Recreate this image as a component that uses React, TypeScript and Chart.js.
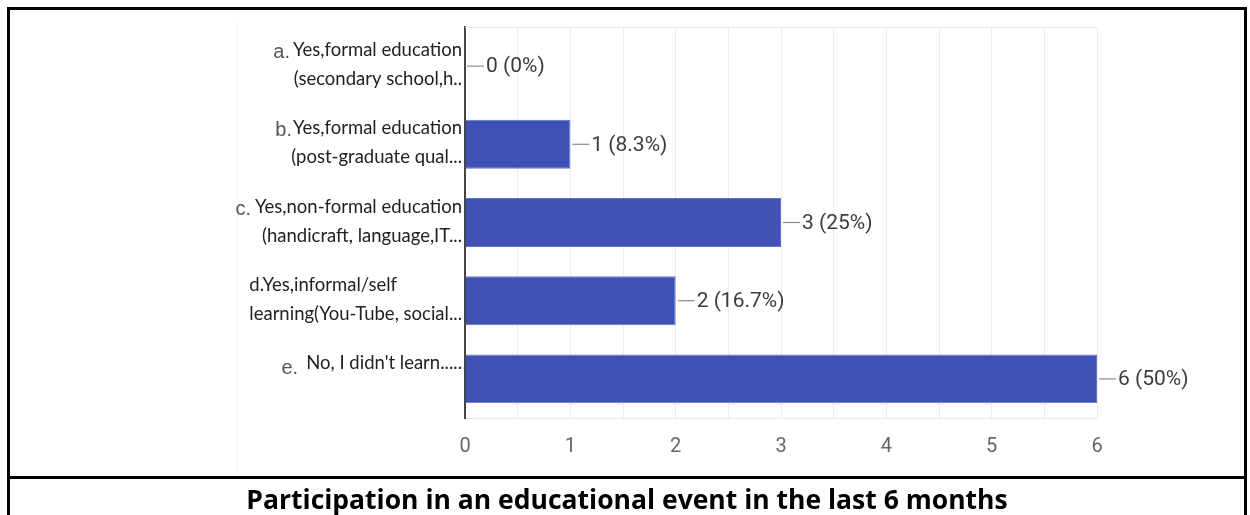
import React, { useEffect, useRef } from "react";
import { Chart, registerables } from "chart.js";

Chart.register(...registerables);

// ---- data ----
const catPrefixes = ["a.", "b.", "c.", "d.", "e."];
const catLine1 = [
  "Yes,formal education",
  "Yes,formal education",
  "Yes,non-formal education",
  "Yes,informal/self",
  "No, I didn't learn.....",
];
const catLine2 = [
  "(secondary school,h..",
  "(post-graduate qual...",
  "(handicraft, language,IT...",
  "learning(You-Tube, social...",
  "",
];
const counts = [0, 1, 3, 2, 6];
const xTicks = [0, 1, 2, 3, 4, 5, 6];
const captionText = "Participation in an educational event in the last 6 months";

// ---- styles ----
const prefixBig = [true, true, true, false, true];
const prefixGap = [3, 1, 4, 0, 8];
const alignLeft = [false, false, false, true, false];
const BAR = "#3f51b5";
const BODY_FONT = "18.5px Lato";
const PREFIX_FONT = "20px 'Liberation Sans'";
const VALUE_FONT = "21px Roboto";

const total = counts.reduce((a, b) => a + b, 0);
const pctLabel = (v: number) => `${v} (${parseFloat(((v / total) * 100).toFixed(1))}%)`;

const labelPlugin = {
  id: "customLabels",
  afterDraw(chart: any) {
    const ctx = chart.ctx;
    const yScale = chart.scales.y;
    const xScale = chart.scales.x;
    const area = chart.chartArea;
    ctx.save();
    // faint top frame line
    ctx.strokeStyle = "#ececec";
    ctx.lineWidth = 1;
    ctx.beginPath();
    ctx.moveTo(area.left, area.top + 0.5);
    ctx.lineTo(area.right, area.top + 0.5);
    ctx.stroke();

    // category labels
    const xRight = area.left - 3;
    ctx.textBaseline = "alphabetic";
    for (let i = 0; i < catLine1.length; i++) {
      const yc = yScale.getPixelForValue(i);
      const y1 = yc - 16 + 6;
      const y2 = yc + 13 + 6;
      ctx.font = BODY_FONT;
      ctx.fillStyle = "#222";
      if (alignLeft[i]) {
        const l1 = catPrefixes[i] + catLine1[i];
        const w = Math.max(ctx.measureText(l1).width, ctx.measureText(catLine2[i]).width);
        ctx.textAlign = "left";
        ctx.fillText(l1, xRight - w, y1);
        ctx.fillText(catLine2[i], xRight - w, y2);
      } else {
        ctx.textAlign = "right";
        ctx.fillText(catLine1[i], xRight, y1);
        if (catLine2[i]) ctx.fillText(catLine2[i], xRight, y2);
        const w1 = ctx.measureText(catLine1[i]).width;
        ctx.font = prefixBig[i] ? PREFIX_FONT : BODY_FONT;
        ctx.fillStyle = "#555";
        ctx.fillText(catPrefixes[i], xRight - w1 - prefixGap[i], y1 + (i === 4 ? 5 : 2));
      }
    }

    // value labels
    ctx.font = VALUE_FONT;
    ctx.textAlign = "left";
    ctx.textBaseline = "middle";
    for (let i = 0; i < counts.length; i++) {
      const xe = xScale.getPixelForValue(counts[i]);
      const yc = yScale.getPixelForValue(i);
      ctx.strokeStyle = "#8a8a8a";
      ctx.lineWidth = 1.2;
      ctx.beginPath();
      ctx.moveTo(xe + 2, yc);
      ctx.lineTo(xe + 19, yc);
      ctx.stroke();
      ctx.fillStyle = "#3c3c3c";
      ctx.fillText(pctLabel(counts[i]), xe + 21, yc + 1);
    }
    ctx.restore();
  },
};

function BarChart() {
  const ref = useRef<HTMLCanvasElement | null>(null);
  useEffect(() => {
    if (!ref.current) return;
    const chart = new Chart(ref.current, {
      type: "bar",
      data: {
        labels: catLine1.map((l, i) => catPrefixes[i] + " " + l),
        datasets: [
          {
            data: counts,
            backgroundColor: BAR,
            borderColor: "#6473c6",
            borderWidth: 1,
            barPercentage: 0.625,
            categoryPercentage: 1,
          },
        ],
      },
      options: {
        indexAxis: "y",
        responsive: false,
        maintainAspectRatio: false,
        animation: false,
        layout: { padding: { left: 465, right: 153, top: 27, bottom: 0 } },
        plugins: { legend: { display: false }, tooltip: { enabled: false } },
        scales: {
          x: {
            min: xTicks[0],
            max: xTicks[xTicks.length - 1],
            ticks: {
              stepSize: 0.5,
              autoSkip: false,
              maxRotation: 0,
              callback: (v: any) => (xTicks.includes(Number(v)) ? String(v) : ""),
              font: { family: "Roboto", size: 20 },
              color: "#666",
              padding: 17,
            },
            grid: { color: "#ececec", drawTicks: false, lineWidth: 1 },
            border: { display: true, color: "#ececec" },
          },
          y: {
            ticks: { display: false },
            grid: { display: false, drawTicks: false },
            border: { display: true, color: "#444", width: 2 },
          },
        },
      },
      plugins: [labelPlugin],
    } as any);
    return () => chart.destroy();
  }, []);
  return (
    <canvas
      ref={ref}
      width={1250}
      height={476}
      style={{ position: "absolute", left: 0, top: 0, width: 1250, height: 476 }}
    />
  );
}

export default function App() {
  return (
    <div
      style={{
        position: "fixed",
        left: 0,
        top: 0,
        width: 1250,
        height: 515,
        background: "#fff",
        overflow: "hidden",
      }}
    >
      <div
        style={{
          position: "absolute",
          left: 237,
          top: 22,
          width: 1,
          height: 450,
          background: "#f3f3f3",
        }}
      />
      <BarChart />
      <div
        style={{
          position: "absolute",
          left: 7,
          top: 7,
          width: 1240,
          height: 540,
          border: "3px solid #000",
          boxSizing: "border-box",
        }}
      />
      <div
        style={{
          position: "absolute",
          left: 7,
          top: 476,
          width: 1240,
          height: 3,
          background: "#000",
        }}
      />
      <div
        style={{
          position: "absolute",
          left: 7,
          width: 1240,
          top: 481,
          textAlign: "center",
          fontFamily: "'Open Sans'",
          fontWeight: 700,
          fontSize: 26.5,
          lineHeight: "36px",
          color: "#000",
          whiteSpace: "nowrap",
        }}
      >
        {captionText}
      </div>
    </div>
  );
}
